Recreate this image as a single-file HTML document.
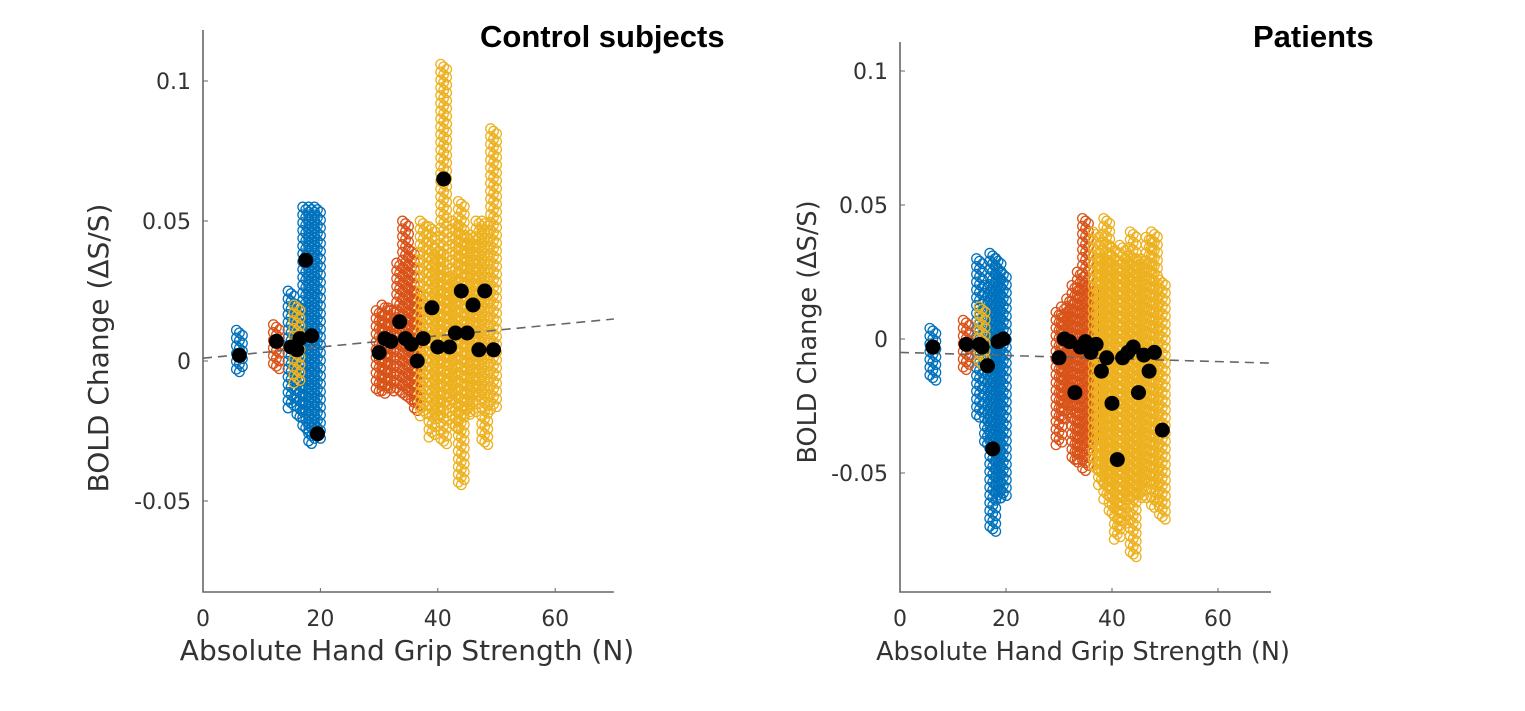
<!DOCTYPE html>
<html><head><meta charset="utf-8"><style>
body{margin:0;background:#fff;width:1525px;height:711px;overflow:hidden}
svg{display:block}
.tk{font-family:"DejaVu Sans","Liberation Sans",sans-serif;font-size:22px;fill:#333}
.ttl{font-family:"Liberation Sans",sans-serif;font-weight:bold;font-size:31px;fill:#000}
</style></head><body>
<svg id="chart" width="1525" height="711">
<text class="ttl" x="480" y="47">Control subjects</text>
<text class="ttl" x="1253" y="47">Patients</text>
</svg>
<script>
// Control subjects: columns [grip, low, high, mean, group(0 blue,1 orange,2 yellow)]
const ctlGrip = [6.2,15,16.5,17.5,18.5,19.5,12.5,16,30,31,32,33.5,34.5,35.5,36.5,37.5,39,40,41,42,43,44,45,46,47,48,49.5];
const ctlLow  = [-0.004,-0.017,-0.02,-0.025,-0.03,-0.028,-0.003,-0.008,-0.011,-0.012,-0.011,-0.012,-0.013,-0.015,-0.018,-0.02,-0.028,-0.02,-0.03,-0.015,-0.025,-0.045,-0.02,-0.02,-0.015,-0.03,-0.018];
const ctlHigh = [0.011,0.025,0.02,0.055,0.055,0.055,0.013,0.02,0.018,0.02,0.019,0.035,0.05,0.04,0.025,0.05,0.048,0.04,0.106,0.03,0.05,0.057,0.045,0.045,0.05,0.05,0.083];
const ctlMean = [0.002,0.005,0.008,0.036,0.009,-0.026,0.007,0.004,0.003,0.008,0.007,0.014,0.008,0.006,0.0,0.008,0.019,0.005,0.065,0.005,0.01,0.025,0.01,0.02,0.004,0.025,0.004];
const ctlGroup= [0,0,0,0,0,0,1,2,1,1,1,1,1,1,1,2,2,2,2,2,2,2,2,2,2,2,2];
const ctlTrend = [0.001,0.015];
// Patients
const patGrip = [6.2,15,16.5,17.5,18.5,19.5,12.5,15.5,30,31,32,33,34,35,36,37,38,39,40,41,42,43,44,45,46,47,48,49.5];
const patLow  = [-0.016,-0.03,-0.04,-0.072,-0.06,-0.06,-0.012,-0.01,-0.04,-0.03,-0.025,-0.046,-0.045,-0.05,-0.04,-0.05,-0.055,-0.06,-0.065,-0.075,-0.07,-0.06,-0.082,-0.06,-0.06,-0.055,-0.063,-0.068];
const patHigh = [0.004,0.03,0.02,0.032,0.03,0.025,0.007,0.012,0.01,0.012,0.015,0.02,0.025,0.045,0.02,0.04,0.03,0.045,0.035,0.03,0.035,0.03,0.04,0.03,0.03,0.038,0.04,0.022];
const patMean = [-0.003,-0.002,-0.01,-0.041,-0.001,0.0,-0.002,-0.003,-0.007,0.0,-0.001,-0.02,-0.003,-0.001,-0.005,-0.002,-0.012,-0.007,-0.024,-0.045,-0.007,-0.005,-0.003,-0.02,-0.006,-0.012,-0.005,-0.034];
const patGroup= [0,0,0,0,0,0,1,2,1,1,1,1,1,1,1,2,2,2,2,2,2,2,2,2,2,2,2,2];
const patTrend = [-0.005,-0.009];
const xTicks = [0,20,40,60];
const ctlYTicks = [-0.05,0,0.05,0.1];
const patYTicks = [-0.05,0,0.05,0.1];
const tickText = {"-0.05":"-0.05","0":"0","0.05":"0.05","0.1":"0.1"};

const NS="http://www.w3.org/2000/svg";
const svg=document.getElementById('chart');
const COLORS=['#0072BD','#D95319','#EDB120'];
function mk(tag,attrs,parent){const e=document.createElementNS(NS,tag);for(const k in attrs)e.setAttribute(k,attrs[k]);(parent||svg).appendChild(e);return e;}

function plot(p){
  const g=mk('g',{});
  
  
  const xs=v=>p.x0+v*p.kx, ys=v=>p.y0-v*p.ky;
  const pts=mk('g',{fill:'none','stroke-width':1.3},g);
  
  
  [0,1,2].forEach(gr=>{
    for(let i=0;i<p.grip.length;i++){
      if(p.group[i]!==gr)continue;
      const cx=xs(p.grip[i]);
      const yt=ys(p.high[i]), yb=ys(p.low[i]);
      let k=0;
      for(let y=yt;y<=yb;y+=2.6,k++){
        const dx=(k%3===0)?-3:(k%3===1?0:3);
        mk('circle',{cx:cx+dx,cy:y,r:4.8,stroke:COLORS[gr]},pts);
      }
    }
  });
  const tl=mk('line',{x1:xs(0),y1:ys(p.trend[0]),x2:xs(70),y2:ys(p.trend[1]),stroke:'#666','stroke-width':1.6,'stroke-dasharray':'9,6'},g);
  
  
  for(let i=0;i<p.grip.length;i++){
    const m=mk('circle',{cx:xs(p.grip[i]),cy:ys(p.mean[i]),r:7.5,fill:'#000'},g);
    
    
  }
  const ax=mk('path',{d:`M${p.x0} ${p.top} V${p.bottom} H${xs(70)}`,stroke:'#666','stroke-width':1.6,fill:'none'},g);
  
  
  xTicks.forEach(t=>{
    mk('line',{x1:xs(t),x2:xs(t),y1:p.bottom,y2:p.bottom-4,stroke:'#666'},g);
    const tx=mk('text',{x:xs(t),y:p.bottom+34,'text-anchor':'middle',class:'tk'},g);
    tx.textContent=t;
    
    
  });
  p.yticks.forEach(t=>{
    mk('line',{x1:p.x0,x2:p.x0+5,y1:ys(t),y2:ys(t),stroke:'#666'},g);
    const tx=mk('text',{x:p.x0-12,y:ys(t)+8,'text-anchor':'end',class:'tk'},g);
    tx.textContent=tickText[String(t)];
    
    
  });
  const xl=mk('text',{x:p.xlabX,y:p.bottom+68,'text-anchor':'middle',class:'tk',style:`font-size:${p.fs}px`},g);
  xl.textContent='Absolute Hand Grip Strength (N)';
  
  
  const yl=mk('text',{x:0,y:0,'text-anchor':'middle',class:'tk',style:`font-size:${p.fs}px`,transform:`translate(${p.ylabX},${p.ylabY}) rotate(-90)`},g);
  yl.textContent='BOLD Change (\u0394S/S)';
  
  
}
plot({name:'control-plot',grip:ctlGrip,low:ctlLow,high:ctlHigh,mean:ctlMean,group:ctlGroup,trend:ctlTrend,yticks:ctlYTicks,
  x0:203,kx:5.87,y0:361,ky:2800,top:30,bottom:592,xlabX:407,ylabX:108,ylabY:348,fs:28});
plot({name:'patients-plot',grip:patGrip,low:patLow,high:patHigh,mean:patMean,group:patGroup,trend:patTrend,yticks:patYTicks,
  x0:900,kx:5.3,y0:339,ky:2680,top:42,bottom:592,xlabX:1083,ylabX:816,ylabY:332,fs:25.5});
</script>
</body></html>
